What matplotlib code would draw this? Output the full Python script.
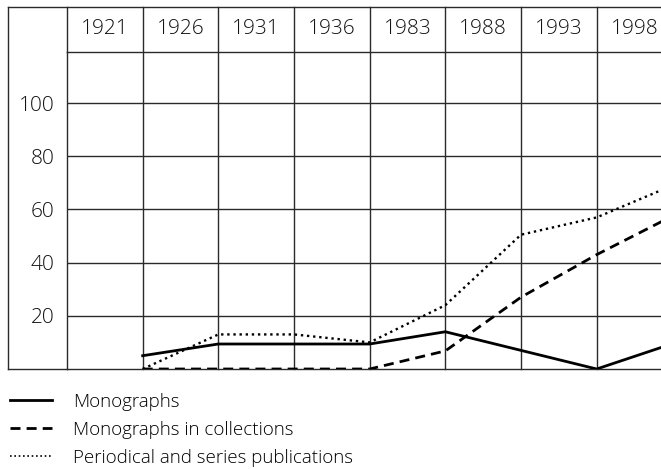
import matplotlib
matplotlib.use("Agg")
import matplotlib.pyplot as plt
from matplotlib.lines import Line2D

plt.rcParams["font.family"] = ["Open Sans", "DejaVu Sans"]
plt.rcParams["font.weight"] = "light"

years = ["1921", "1926", "1931", "1936", "1983", "1988", "1993", "1998"]
x_pos = [1, 2, 3, 4, 5, 6, 7, 8]
monographs = [5, 9.4, 9.4, 9.4, 14, 7, 0, 9.5]
in_collections = [0, 0, 0, 0, 6.8, 27, 43, 57.5]
periodicals = [0, 13, 13, 10, 24, 50.5, 57, 69]
y_ticks = [20, 40, 60, 80, 100]

W, H = 661, 469
fig = plt.figure(figsize=(W / 100, H / 100), dpi=100)

# pixel boxes of the table
left, right, top, bottom = 67, 661, 52, 369
outer_left, outer_top = 8, 7

ax = fig.add_axes([left / W, 1 - bottom / H, (right - left) / W, (bottom - top) / H])
ax.set_xlim(0, 7.85)
ax.set_ylim(0, 119.2)

grid_c = "#2a2a2a"
for s in ["left", "bottom", "top"]:
    ax.spines[s].set_color(grid_c)
    ax.spines[s].set_linewidth(1.0)
ax.spines["right"].set_visible(False)

ax.set_yticks(y_ticks)
ax.set_yticklabels([str(v) for v in y_ticks], fontsize=15, color="#111111")
ax.tick_params(axis="y", length=0, pad=9)
ax.set_xticks([])
for v in y_ticks:
    ax.axhline(v, color=grid_c, lw=1.0, zorder=1)

# vertical lines through the header row
head_h = (top - outer_top) / (bottom - top)
for i in range(1, len(years)):
    ax.axvline(i, ymin=0, ymax=1 + head_h, color=grid_c, lw=1.0, clip_on=False, zorder=1)
ax.axvline(0, ymin=1, ymax=1 + head_h, color=grid_c, lw=1.0, clip_on=False)

# year labels
tr = ax.get_xaxis_transform()
for i, yr in enumerate(years):
    ax.text(i + 0.5, 1 + head_h / 2, yr, transform=tr, ha="center", va="center",
            fontsize=15, color="#111111")

# outer border of the label column and header
fig.add_artist(Line2D([outer_left / W, outer_left / W], [1 - outer_top / H, 1 - bottom / H],
                      color=grid_c, lw=1.0))
fig.add_artist(Line2D([outer_left / W, 1], [1 - outer_top / H, 1 - outer_top / H],
                      color=grid_c, lw=1.0))
fig.add_artist(Line2D([outer_left / W, left / W], [1 - bottom / H, 1 - bottom / H],
                      color=grid_c, lw=1.0))

l1, = ax.plot(x_pos, monographs, color="black", lw=2.0, solid_joinstyle="miter", zorder=3)
l2, = ax.plot(x_pos, in_collections, color="black", lw=2.0, linestyle=(0, (3.6, 2.2)), zorder=3)
l3, = ax.plot(x_pos, periodicals, color="black", lw=1.7, linestyle=(0, (1, 1.6)), zorder=3)

h3 = Line2D([], [], color="black", lw=1.2, linestyle=(0, (1, 1.6)))
fig.legend([l1, l2, h3],
           ["Monographs", "Monographs in collections", "Periodical and series publications"],
           loc="upper left", bbox_to_anchor=(6 / W, 1 - 389 / H), frameon=False,
           prop={"size": 13.5, "weight": "light"},
           handlelength=2.24, handletextpad=1.12, labelspacing=0.53,
           borderpad=0.2, borderaxespad=0)

fig.savefig("out.png", dpi=100)
